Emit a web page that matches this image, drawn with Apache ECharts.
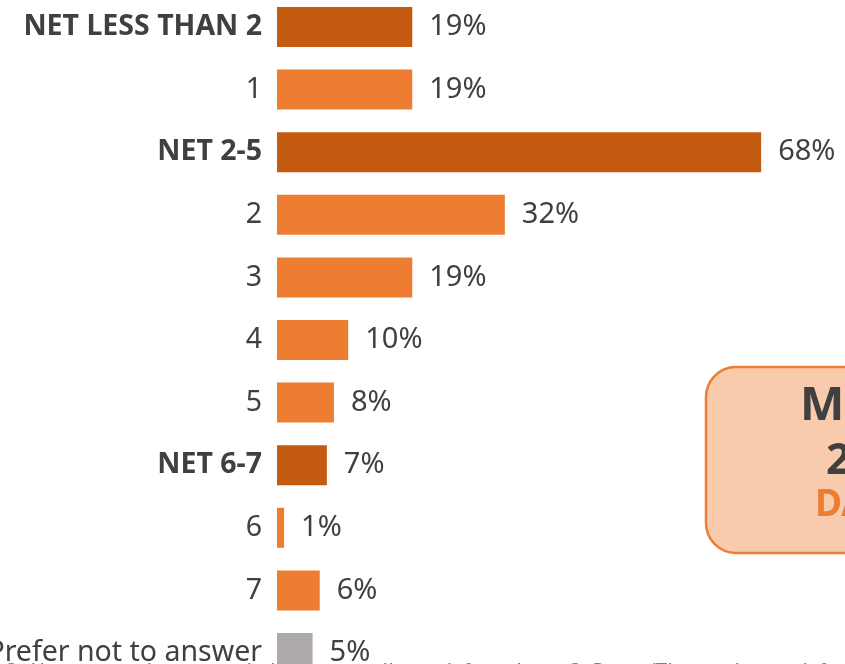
<!DOCTYPE html>
<html>
<head>
<meta charset="utf-8">
<script src="https://cdn.jsdelivr.net/npm/echarts@6/dist/echarts.min.js"></script>
<style>
html,body{margin:0;padding:0;background:#fff;}
#chart{width:845px;height:664px;}
</style>
</head>
<body>
<div id="chart"></div>
<script>
const categories = ['NET LESS THAN 2','1','NET 2-5','2','3','4','5','NET 6-7','6','7','Prefer not to answer'];
const values = [19,19,68,32,19,10,8,7,1,6,5];
const rowKinds = ['net','item','net','item','item','item','item','net','item','item','other'];
const calloutLines = ['Median','2','DAYS'];
const footnote = 'Q. How many days a week do you usually work from home?  Base: (Those who work from home)';

const kindColor = {net:'#C55A11', item:'#ED7D31', other:'#AEAAAA'};
const FONT = '"Noto Sans", sans-serif';

const chart = echarts.init(document.getElementById('chart'));
chart.setOption({
  animation:false,
  backgroundColor:'#ffffff',
  grid:{left:277, top:-4.3, width:712, height:688.6, containLabel:false, outerBoundsMode:'none'},
  xAxis:{type:'value', min:0, max:100, show:false},
  yAxis:{
    type:'category', inverse:true, data:categories,
    axisLine:{show:false}, axisTick:{show:false}, splitLine:{show:false},
    axisLabel:{
      margin:15, color:'#404040', fontFamily:FONT, fontSize:29,
      formatter:function(v){ return v.indexOf('NET')===0 ? '{b|'+v+'}' : '{n|'+v+'}'; },
      rich:{
        b:{fontWeight:'bold', fontSize:28.5, color:'#404040', fontFamily:FONT},
        n:{fontWeight:'normal', fontSize:28.5, color:'#404040', fontFamily:FONT}
      }
    }
  },
  series:[{
    type:'bar', barWidth:40,
    data: values.map((v,i)=>({value:v, itemStyle:{color:kindColor[rowKinds[i]]}})),
    label:{show:true, position:'right', distance:17, formatter:'{c}%',
      color:'#404040', fontFamily:FONT, fontSize:29}
  }],
  graphic:[
    {type:'rect', shape:{x:706, y:367, width:260, height:186, r:30},
     style:{fill:'#F8CBAD', stroke:'#ED7D31', lineWidth:2.5}, z:10},
    {type:'text', left:800, top:383, z:11,
     style:{text:calloutLines[0], fill:'#404040', font:'bold 47px "Noto Sans", sans-serif'}},
    {type:'text', left:826, top:440, z:11,
     style:{text:calloutLines[1], fill:'#404040', font:'bold 43px "Noto Sans", sans-serif'}},
    {type:'text', left:815, top:487, z:11,
     style:{text:calloutLines[2], fill:'#ED7D31', font:'bold 37px "Noto Sans", sans-serif'}},
    {type:'text', left:2, top:662, z:1,
     style:{text:footnote, fill:'#7F7F7F', font:'italic 22px "Noto Sans", sans-serif'}}
  ]
});
</script>
</body>
</html>
